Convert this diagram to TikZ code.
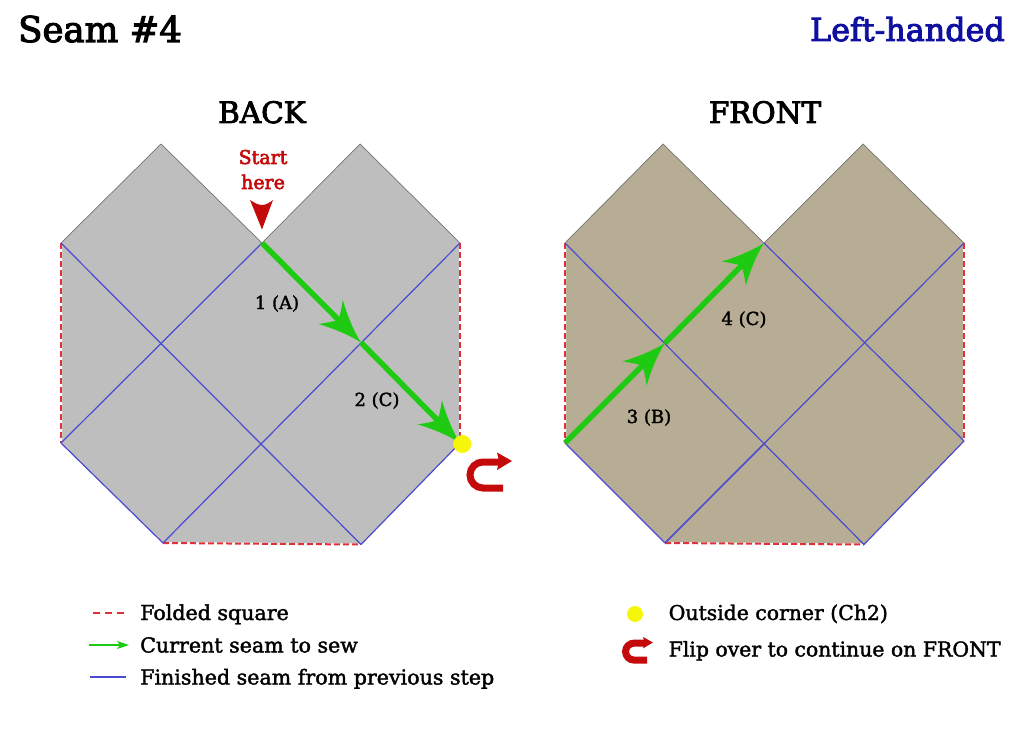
\documentclass[tikz,border=0pt]{standalone}
\usepackage{fontspec}
\setmainfont[FakeBold=1.8]{DejaVu Serif}
\newfontfamily\heavyfont[FakeBold=3]{DejaVu Serif}
\usetikzlibrary{arrows.meta}
\definecolor{seamgreen}{HTML}{1FCB12}
\definecolor{seamblue}{HTML}{4A4AD2}
\definecolor{foldred}{HTML}{E0303A}
\definecolor{markred}{HTML}{C40A0A}
\definecolor{dotyellow}{HTML}{F6F60A}
\definecolor{backgray}{HTML}{BEBEBE}
\definecolor{fronttan}{HTML}{B7AD94}
\definecolor{titleblue}{HTML}{0F0FA0}
\pgfdeclarearrow{
  name=SeamHead,
  setup code={
    \pgfarrowssettipend{0pt}
    \pgfarrowssetlineend{-24pt}
    \pgfarrowssetvisualbackend{-30pt}
    \pgfarrowssetbackend{-43pt}
    \pgfarrowshullpoint{0pt}{0pt}
    \pgfarrowshullpoint{-43pt}{17pt}
    \pgfarrowshullpoint{-43pt}{-17pt}
  },
  drawing code={
    \pgfpathmoveto{\pgfqpoint{0pt}{0pt}}
    \pgfpathcurveto{\pgfqpoint{-14pt}{3pt}}{\pgfqpoint{-30pt}{10pt}}{\pgfqpoint{-43pt}{17pt}}
    \pgfpathcurveto{\pgfqpoint{-37pt}{9pt}}{\pgfqpoint{-34pt}{4pt}}{\pgfqpoint{-32pt}{0pt}}
    \pgfpathcurveto{\pgfqpoint{-34pt}{-4pt}}{\pgfqpoint{-37pt}{-9pt}}{\pgfqpoint{-43pt}{-17pt}}
    \pgfpathcurveto{\pgfqpoint{-30pt}{-10pt}}{\pgfqpoint{-14pt}{-3pt}}{\pgfqpoint{0pt}{0pt}}
    \pgfpathclose
    \pgfusepathqfill
  },
}
\tikzset{
  x=1pt,y=-1pt,
  edge/.style={draw=gray!90!black,line width=0.7pt},
  finished/.style={draw=seamblue,line width=1.2pt},
  folded/.style={draw=foldred,line width=2pt,dash pattern=on 6pt off 3pt},
  foldbase/.style={draw=white,line width=2pt},
  seam/.style={draw=seamgreen,line width=5.5pt,-{SeamHead[sep=0pt]}},
  seamkey/.style={draw=seamgreen,line width=1.2pt,-{Stealth[length=12pt,width=8pt,inset=3pt,sep=0pt]}},
  legend/.style={anchor=base west,font=\fontsize{20.6}{24}\selectfont,inner sep=0pt},
  legendb/.style={anchor=base west,font=\fontsize{20.4}{24}\selectfont,inner sep=0pt},
  heading/.style={anchor=base,font=\heavyfont\fontsize{29.5}{34}\selectfont,inner sep=0pt},
  steplabel/.style={anchor=base,font=\fontsize{18}{21}\selectfont,inner sep=0pt},
  startlabel/.style={anchor=base,text=markred,font=\heavyfont\fontsize{19}{22}\selectfont,inner sep=0pt},
  flipsign/.pic={
    \draw[markred,line width=7pt] (20,13) -- (0,13) arc[start angle=90,end angle=270,radius=13] -- (18,-13);
    \fill[markred] (29,-14) -- (14,-22.5) -- (16,-14) -- (14,-5) -- cycle;
  },
}
\begin{document}
\begin{tikzpicture}
\useasboundingbox (0,0) rectangle (1024,730);
% titles
\node[anchor=base west,inner sep=0pt,font=\heavyfont\fontsize{35.5}{42}\selectfont] (title) at (18,42) {Seam \#4};
\node[anchor=base east,inner sep=0pt,text=titleblue,font=\heavyfont\fontsize{31.8}{35}\selectfont] (hand) at (1005,41) {Left-handed};
\node[heading] (back) at (262,123) {BACK};
\node[heading] (front) at (765,123) {FRONT};
% BACK corners
\coordinate (a1) at (61,243);
\coordinate (a2) at (161,144);
\coordinate (a3) at (262,243);
\coordinate (a4) at (360,144);
\coordinate (a5) at (460,243);
\coordinate (a6) at (460,443);
\coordinate (a7) at (361,544.5);
\coordinate (a8) at (163,543);
\coordinate (a9) at (61,443);
\coordinate (am) at (361,342.5);
\fill[backgray] (a1)--(a2)--(a3)--(a4)--(a5)--(a6)--(a7)--(a8)--(a9)--cycle;
\draw[edge] (a1)--(a2)--(a3)--(a4)--(a5);
\draw[foldbase] (a5)--(a6) (a8)--(a7) (a1)--(a9);
\draw[folded] (a5)--(a6);
\draw[folded] (a8)--(a7);
\draw[folded] (a1)--(a9);
\draw[finished] (a3)--(a9);
\draw[finished] (a1)--(a7);
\draw[finished] (a5)--(a8);
\draw[finished] (a9)--(a8);
\draw[finished] (a6)--(a7);
\draw[seam] (a3)--(am);
\draw[seam] (am)--(a6);
% FRONT corners
\coordinate (b1) at (565,243);
\coordinate (b2) at (663,144);
\coordinate (b3) at (764,243);
\coordinate (b4) at (863,144);
\coordinate (b5) at (964,243);
\coordinate (b6) at (964,441);
\coordinate (b7) at (864,544.5);
\coordinate (b8) at (665,543);
\coordinate (b9) at (565,443);
\coordinate (bm) at (665,343);
\coordinate (bc) at (765,443);
\fill[fronttan] (b1)--(b2)--(b3)--(b4)--(b5)--(b6)--(b7)--(b8)--(b9)--cycle;
\draw[edge] (b1)--(b2)--(b3)--(b4)--(b5);
\draw[foldbase] (b5)--(b6) (b8)--(b7) (b1)--(b9);
\draw[folded] (b5)--(b6);
\draw[folded] (b8)--(b7);
\draw[folded] (b1)--(b9);
\draw[finished] (b1)--(b7);
\draw[finished] (b3)--(b6);
\draw[finished] (b5)--(b8);
\draw[finished] (b8)--(bc);
\draw[finished] (b9)--(b8);
\draw[finished] (b6)--(b7);
\draw[seam] (b9)--(bm);
\draw[seam] (bm)--(b3);
% labels
\node[startlabel] (start1) at (263,164) {Start};
\node[startlabel] (start2) at (263,189) {here};
\fill[markred] (250,200) .. controls (255,203) and (258,205) .. (262,205) .. controls (266,205) and (269,203) .. (273,200) -- (262,229.5) -- cycle;
\node[steplabel] (s1) at (277,309) {1 (A)};
\node[steplabel] (s2) at (377,406) {2 (C)};
\node[steplabel] (s3) at (649,423) {3 (B)};
\node[steplabel] (s4) at (744,325) {4 (C)};
% corner dot and flip
\fill[dotyellow] (462.3,444) circle[radius=9];
\pic at (483,475) {flipsign};
% legend left
\coordinate (k1a) at (93,613);\coordinate (k1b) at (124,613);
\coordinate (k2a) at (89,645);\coordinate (k2b) at (129,645);
\coordinate (k3a) at (90,677);\coordinate (k3b) at (126,677);
\draw[folded,line width=1.2pt,dash pattern=on 7pt off 5pt] (k1a)--(k1b);
\draw[seamkey] (k2a)--(k2b);
\draw[finished] (k3a)--(k3b);
\node[legend] (t1) at (140,620) {Folded square};
\node[legend] (t2) at (140,652.5) {Current seam to sew};
\node[legend] (t3) at (140,684.5) {Finished seam from previous step};
% legend right
\fill[dotyellow] (635,614) circle[radius=8];
\pic[scale=0.65,transform shape] at (634,651.6) {flipsign};
\node[legendb] (t4) at (668.5,620) {Outside corner (Ch2)};
\node[legendb] (t5) at (668.5,656.5) {Flip over to continue on FRONT};
\end{tikzpicture}
\end{document}
